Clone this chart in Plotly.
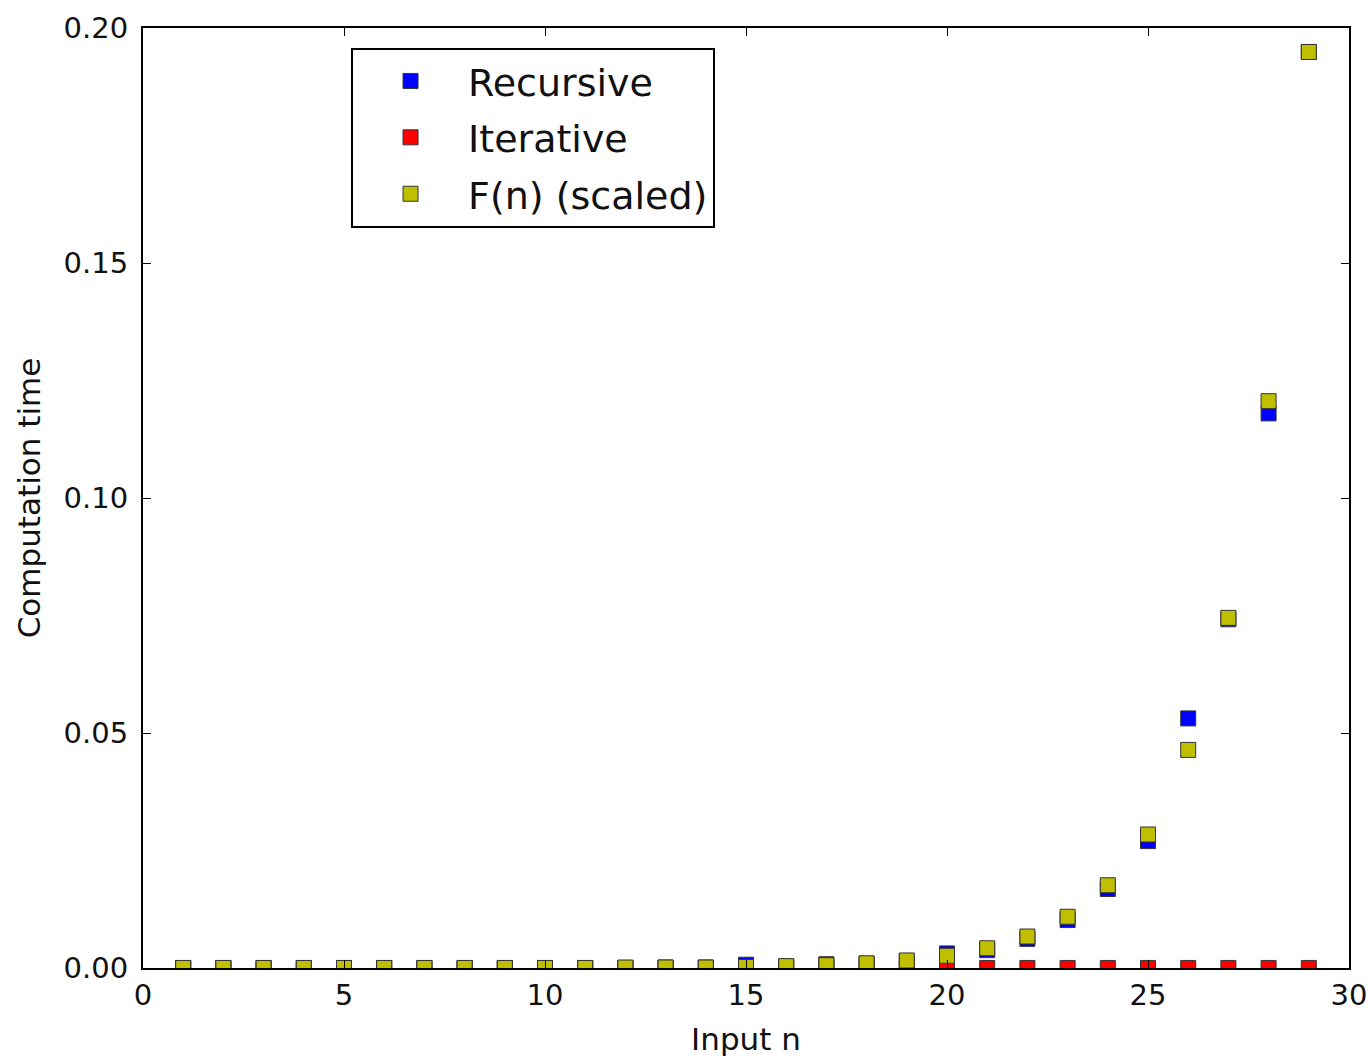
import plotly.graph_objects as go

n_values = list(range(1, 30))

recursive_time = [0.0000, 0.0000, 0.0000, 0.0000, 0.0000, 0.0000, 0.0000, 0.0000, 0.0000, 0.0000,
                  0.0000, 0.0000, 0.0001, 0.0001, 0.0007, 0.0003, 0.0008, 0.0009, 0.0015, 0.0031,
                  0.0038, 0.0062, 0.0102, 0.0168, 0.0270, 0.0531, 0.0742, 0.1180, 0.1949]

iterative_time = [0.00001] * 29

fib_scaled = [0.0000, 0.0000, 0.0000, 0.0000, 0.0000, 0.0000, 0.0000, 0.0000, 0.0000, 0.0000,
              0.0000, 0.0001, 0.0001, 0.0001, 0.0002, 0.0004, 0.0006, 0.0010, 0.0016, 0.0026,
              0.0042, 0.0067, 0.0109, 0.0176, 0.0284, 0.0464, 0.0745, 0.1206, 0.1949]

series = [
    ("Recursive", recursive_time, "#0000ff"),
    ("Iterative", iterative_time, "#ff0000"),
    ("F(n) (scaled)", fib_scaled, "#bfbf00"),
]

fig = go.Figure()
for i, (name, vals, color) in enumerate(series):
    fig.add_trace(go.Scatter(
        x=n_values, y=vals, mode="markers", name=name,
        legendgroup="g%d" % i,
        marker=dict(symbol="square", size=15, color=color,
                    line=dict(color="#333333", width=1)),
        cliponaxis=True,
    ))

FONT = "DejaVu Sans"
axis_common = dict(
    showline=True, linecolor="black", linewidth=2, mirror="ticks",
    ticks="inside", ticklen=8, tickwidth=1, tickcolor="black",
    showgrid=False, zeroline=False, automargin=False,
    tickfont=dict(family=FONT, size=29, color="#111111"),
)

fig.update_xaxes(range=[0, 30], tickvals=[0, 5, 10, 15, 20, 25, 30],
                 title=dict(text="Input n", font=dict(family=FONT, size=31, color="#111111"), standoff=18),
                 **axis_common)
fig.update_yaxes(range=[0, 0.2], tickvals=[0, 0.05, 0.10, 0.15, 0.20], tickformat=".2f",
                 ticklabelstandoff=7,
                 title=dict(text="Computation time", font=dict(family=FONT, size=31, color="#111111"), standoff=14),
                 **axis_common)

fig.update_layout(
    width=1370, height=1061,
    margin=dict(l=143, r=21, t=28, b=93),
    paper_bgcolor="white", plot_bgcolor="white",
    showlegend=True,
    legend=dict(x=0.1725, y=0.979, xanchor="left", yanchor="top",
                bgcolor="white", bordercolor="black", borderwidth=2,
                font=dict(family=FONT, size=38, color="#111111"),
                itemsizing="trace", itemwidth=105, tracegroupgap=4),
)

fig.write_html("out.html")
